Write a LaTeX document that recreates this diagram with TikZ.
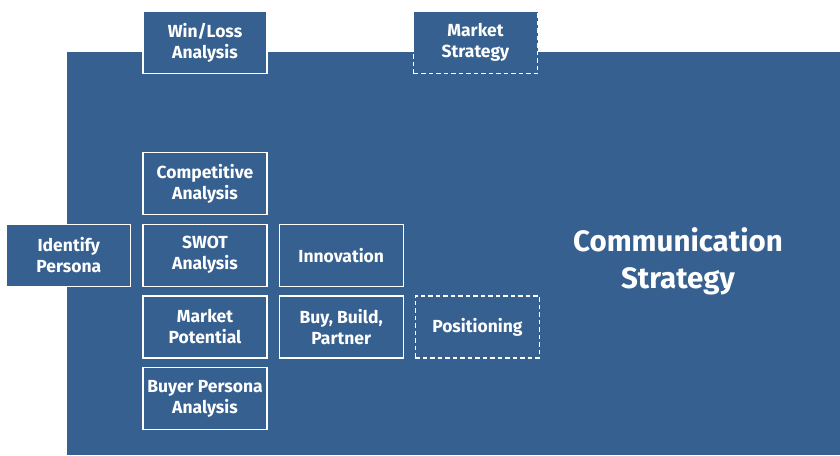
\documentclass[tikz,border=0pt]{standalone}
\usepackage{fontspec}
\setmainfont{Fira Sans}
\usetikzlibrary{positioning}
\definecolor{StratBlue}{HTML}{36608F}

\begin{document}
\begin{tikzpicture}[x=1pt,y=-1pt,node distance=8.5pt and 11pt,
 box/.style={draw=white,fill=StratBlue,text=white,line width=1.2pt,
             minimum width=124pt,minimum height=62pt,align=center,inner sep=2pt,
             font=\bfseries\fontsize{17.5}{21}\selectfont},
 open/.style={box,dash pattern=on 4.5pt off 3pt},
 headline/.style={text=white,align=center,font=\bfseries\fontsize{29.5}{37}\selectfont}]
\useasboundingbox (0,0) rectangle (840,455);
\fill[StratBlue] (67,52) rectangle (840,455);
\node[box] (comp) at (205,183.5) {Competitive\\Analysis};
\node[box,below=of comp] (swot) {SWOT\\Analysis};
\node[box,below=of swot] (pot) {Market\\Potential};
\node[box,below=of pot] (buyer) {Buyer Persona\\Analysis};
\node[box,left=of swot] (persona) {Identify\\Persona};
\node[box,right=of swot] (innov) {Innovation};
\node[box,right=of pot] (bbp) {Buy, Build,\\Partner};
\node[open,right=of bbp] (posi) {Positioning};
\node[box] (winloss) at (205,42.5) {Win/Loss\\Analysis};
\node[open] (mstrat) at (475.5,42.5) {Market\\Strategy};
\node[headline] (comm) at (678,261) {Communication\\Strategy};
\end{tikzpicture}
\end{document}
